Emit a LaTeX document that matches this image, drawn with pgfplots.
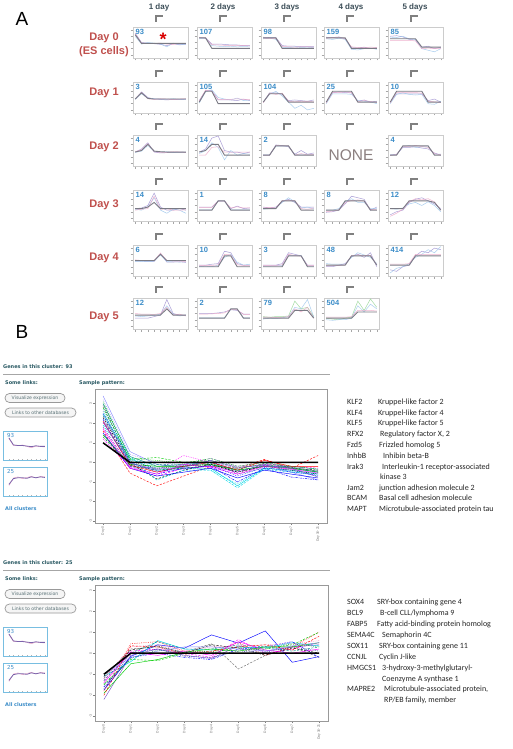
\documentclass[border=0pt]{standalone}
\usepackage{pgfplots}
\usepackage{pgfplotstable}
\pgfplotsset{compat=1.18}
\usepackage{fontspec}
\setmainfont{Liberation Sans}
\newfontfamily\carlito{Carlito}
\newfontfamily\dejavu{DejaVu Sans}

\definecolor{rowred}{RGB}{192,80,77}
\definecolor{headgray}{RGB}{60,78,88}
\definecolor{numblue}{RGB}{58,140,200}
\definecolor{nonegray}{RGB}{140,128,128}
\definecolor{tealtext}{RGB}{40,88,98}
\definecolor{btntext}{RGB}{85,110,115}
\definecolor{thumbblue}{RGB}{120,190,225}
\definecolor{meangray}{RGB}{122,122,132}
\definecolor{mpurple}{RGB}{150,135,205}
\definecolor{mpink}{RGB}{235,160,195}
\definecolor{mblue}{RGB}{150,195,235}
\definecolor{mgreen}{RGB}{140,210,140}
\definecolor{Rred}{RGB}{255,0,0}
\definecolor{Rgreen}{RGB}{0,205,0}
\definecolor{Rblue}{RGB}{0,0,255}
\definecolor{Rcyan}{RGB}{0,215,230}
\definecolor{Rmag}{RGB}{255,0,255}
\definecolor{Rteal}{RGB}{0,139,139}
\definecolor{Rpurple}{RGB}{120,80,200}
\definecolor{Rlav}{RGB}{140,140,255}
\definecolor{Rpink}{RGB}{255,105,180}
\definecolor{Rdkgreen}{RGB}{0,120,60}
\definecolor{Rnavy}{RGB}{30,30,150}
\definecolor{Rgray}{RGB}{110,110,110}

\tikzset{
 ld/.style={dash pattern=on 2.2pt off 1.4pt},
 lo/.style={dash pattern=on 0.7pt off 1.1pt},
 ldd/.style={dash pattern=on 2.2pt off 1pt on 0.7pt off 1pt},
}

\pgfplotsset{
 mini/.style={scale only axis, anchor=north west, width=55pt, height=31pt,
   xmin=-0.35, xmax=8.35, ymin=0, ymax=1,
   axis line style={draw=black!20, line width=0.6pt},
   xtick={0,...,8}, ytick={0.1,0.3,0.5,0.7,0.9},
   xticklabels={}, yticklabels={}, xtick pos=lower, ytick pos=left,
   tick align=outside, major tick length=2.5pt,
   tick style={black!35, line width=0.4pt}, clip=true},
 thumb/.style={scale only axis, anchor=north west, width=44pt, height=29pt,
   xmin=-1.1, xmax=8.7, ymin=0, ymax=1,
   axis line style={draw=thumbblue, line width=1pt},
   xtick={0,...,8}, xticklabels={}, ytick=\empty, xtick pos=lower,
   tick align=inside, major tick length=1.5pt,
   tick style={black!30, line width=0.3pt}, clip=true},
 big/.style={scale only axis, anchor=north west, width=232pt,
   xmin=-0.3, xmax=8.33,
   axis line style={draw=black!40, line width=0.9pt},
   xtick={0,...,8},
   xticklabels={Day 0,Day 1,Day 2,Day 3,Day 4,Day 5,Day 6,Day 7,Day 16-21},
   ytick={-3,...,3},
   tick align=outside, major tick length=2pt,
   tick style={black!50, line width=0.5pt},
   xtick pos=lower, ytick pos=left,
   xticklabel style={rotate=90, anchor=east, font=\fontsize{3.4}{3.6}\selectfont, text=black!55, inner sep=1pt},
   yticklabel style={rotate=90, anchor=south, font=\fontsize{3.4}{3.6}\selectfont, text=black!55, inner sep=1pt},
   /pgf/number format/assume math mode=true,
   every axis plot/.append style={line width=0.45pt},
   clip=true},
}

% ---------- Panel A data: one table per small plot (m = mean, a,b,c = single genes)
\pgfplotstableread{
x m a b c
0 .75 .80 .70 .78
1 .47 .50 .45 .48
2 .47 .48 .50 .46
3 .47 .46 .48 .47
4 .47 .44 .45 .48
5 .47 .40 .36 .45
6 .47 .46 .48 .44
7 .47 .43 .42 .46
8 .47 .44 .45 .46
}\tAa
\pgfplotstableread{
x m a b c
0 .65 .65 .62 .66
1 .65 .65 .63 .64
2 .31 .45 .40 .43
3 .31 .45 .38 .42
4 .31 .44 .37 .41
5 .31 .42 .38 .40
6 .31 .42 .36 .41
7 .31 .40 .37 .40
8 .31 .40 .36 .39
}\tAb
\pgfplotstableread{
x m a b c
0 .65 .67 .62 .64
1 .65 .66 .64 .63
2 .65 .66 .60 .63
3 .31 .40 .35 .37
4 .31 .38 .33 .36
5 .31 .38 .36 .35
6 .31 .37 .34 .36
7 .31 .37 .35 .36
8 .31 .37 .33 .35
}\tAc
\pgfplotstableread{
x m a b c
0 .65 .67 .62 .64
1 .65 .66 .60 .66
2 .65 .68 .64 .66
3 .65 .62 .60 .63
4 .31 .33 .28 .36
5 .31 .32 .26 .34
6 .31 .35 .30 .33
7 .31 .30 .32 .35
8 .31 .33 .28 .34
}\tAd
\pgfplotstableread{
x m a b c
0 .62 .70 .65 .57
1 .62 .72 .66 .57
2 .62 .68 .70 .57
3 .62 .60 .62 .57
4 .62 .58 .60 .55
5 .35 .35 .30 .30
6 .35 .38 .25 .32
7 .35 .30 .20 .30
8 .35 .35 .30 .30
}\tAe
\pgfplotstableread{
x m a b c
0 .45 .45 .44 .46
1 .65 .68 .62 .66
2 .47 .50 .48 .46
3 .45 .45 .46 .44
4 .45 .44 .45 .46
5 .45 .42 .44 .45
6 .45 .44 .46 .43
7 .45 .43 .44 .45
8 .45 .45 .44 .46
}\tBa
\pgfplotstableread{
x m a b c
0 .35 .40 .32 .38
1 .70 .72 .68 .74
2 .70 .72 .75 .70
3 .30 .42 .50 .44
4 .30 .42 .45 .43
5 .30 .42 .42 .44
6 .30 .40 .48 .46
7 .30 .45 .40 .44
8 .30 .40 .42 .43
}\tBb
\pgfplotstableread{
x m a b c
0 .35 .35 .35 .33
1 .62 .65 .60 .64
2 .62 .65 .70 .60
3 .62 .60 .55 .64
4 .35 .40 .35 .38
5 .35 .42 .15 .36
6 .35 .40 .25 .38
7 .35 .38 .10 .37
8 .35 .42 .15 .36
}\tBc
\pgfplotstableread{
x m a b c
0 .35 .35 .30 .33
1 .70 .65 .62 .67
2 .70 .68 .62 .66
3 .70 .66 .62 .68
4 .70 .65 .60 .66
5 .35 .38 .40 .36
6 .35 .42 .38 .40
7 .35 .35 .36 .37
8 .35 .38 .30 .34
}\tBd
\pgfplotstableread{
x m a b c
0 .35 .35 .30 .33
1 .70 .62 .60 .66
2 .70 .62 .65 .66
3 .70 .62 .60 .66
4 .70 .62 .58 .66
5 .70 .62 .60 .64
6 .35 .40 .30 .38
7 .35 .45 .28 .36
8 .35 .35 .38 .34
}\tBe
\pgfplotstableread{
x m a b c
0 .45 .45 .44 .46
1 .50 .55 .48 .52
2 .70 .75 .66 .72
3 .48 .45 .47 .46
4 .46 .42 .45 .44
5 .45 .43 .46 .44
6 .45 .44 .44 .46
7 .45 .45 .44 .45
8 .45 .44 .45 .44
}\tCa
\pgfplotstableread{
x m a b c
0 .45 .45 .40 .35
1 .50 .55 .50 .35
2 .70 .90 .75 .60
3 .70 .97 .60 .62
4 .35 .50 .20 .45
5 .35 .45 .50 .45
6 .35 .45 .35 .45
7 .35 .40 .40 .45
8 .35 .45 .38 .45
}\tCb
\pgfplotstableread{
x m a b c
0 .35 .35 .36 .35
1 .35 .35 .36 .35
2 .65 .68 .64 .66
3 .65 .66 .64 .65
4 .65 .62 .64 .65
5 .35 .38 .36 .35
6 .35 .50 .36 .40
7 .35 .38 .36 .36
8 .35 .42 .36 .37
}\tCc
\pgfplotstableread{
x m a b c
0 .35 .35 .36 .34
1 .35 .38 .36 .37
2 .65 .60 .62 .63
3 .65 .60 .66 .63
4 .65 .62 .60 .66
5 .65 .58 .62 .63
6 .65 .55 .62 .60
7 .35 .42 .38 .40
8 .35 .35 .38 .36
}\tCe
\pgfplotstableread{
x m a b c
0 .40 .40 .38 .35
1 .40 .42 .35 .38
2 .45 .50 .45 .40
3 .60 .90 .75 .80
4 .40 .45 .35 .38
5 .40 .35 .25 .40
6 .40 .35 .38 .35
7 .40 .40 .35 .35
8 .40 .35 .25 .36
}\tDa
\pgfplotstableread{
x m a b c
0 .35 .45 .36 .44
1 .35 .45 .36 .44
2 .35 .45 .36 .44
3 .65 .65 .64 .64
4 .65 .65 .64 .64
5 .35 .40 .36 .42
6 .35 .48 .36 .46
7 .35 .40 .36 .42
8 .35 .42 .36 .42
}\tDb
\pgfplotstableread{
x m a b c
0 .40 .45 .38 .42
1 .40 .42 .40 .44
2 .40 .45 .42 .42
3 .65 .62 .60 .66
4 .65 .70 .75 .66
5 .65 .60 .62 .66
6 .35 .45 .42 .40
7 .35 .45 .45 .38
8 .35 .45 .40 .42
}\tDc
\pgfplotstableread{
x m a b c
0 .35 .28 .35 .30
1 .35 .30 .35 .32
2 .35 .35 .40 .36
3 .65 .55 .62 .60
4 .65 .80 .72 .66
5 .65 .75 .60 .68
6 .65 .70 .60 .64
7 .35 .35 .40 .38
8 .35 .45 .40 .36
}\tDd
\pgfplotstableread{
x m a b c
0 .40 .20 .40 .15
1 .40 .30 .38 .25
2 .40 .35 .42 .38
3 .65 .60 .55 .62
4 .65 .70 .60 .72
5 .65 .75 .50 .68
6 .65 .65 .62 .72
7 .60 .55 .50 .62
8 .35 .40 .30 .35
}\tDe
\pgfplotstableread{
x m a b c
0 .50 .48 .46 .52
1 .50 .48 .47 .50
2 .50 .47 .46 .50
3 .50 .47 .48 .50
4 .70 .72 .68 .74
5 .50 .45 .47 .50
6 .50 .45 .46 .48
7 .50 .46 .45 .48
8 .50 .44 .46 .47
}\tEa
\pgfplotstableread{
x m a b c
0 .30 .35 .30 .33
1 .30 .35 .32 .34
2 .30 .38 .30 .34
3 .30 .40 .35 .36
4 .65 .80 .60 .70
5 .65 .75 .70 .68
6 .30 .40 .45 .36
7 .30 .35 .35 .34
8 .30 .35 .38 .33
}\tEb
\pgfplotstableread{
x m a b c
0 .30 .35 .32 .34
1 .30 .35 .32 .34
2 .30 .35 .33 .34
3 .30 .40 .34 .36
4 .65 .75 .66 .70
5 .65 .70 .67 .66
6 .65 .65 .66 .64
7 .30 .35 .32 .34
8 .30 .35 .32 .34
}\tEc
\pgfplotstableread{
x m a b c
0 .35 .30 .40 .33
1 .35 .30 .38 .33
2 .35 .35 .38 .34
3 .35 .40 .38 .36
4 .65 .62 .60 .66
5 .65 .70 .75 .68
6 .65 .60 .68 .66
7 .65 .75 .60 .66
8 .35 .30 .40 .36
}\tEd
\pgfplotstableread{
x m a b c
0 .35 .20 .10 .38
1 .35 .15 .25 .38
2 .35 .30 .30 .38
3 .35 .35 .40 .40
4 .65 .65 .60 .70
5 .65 .80 .70 .70
6 .65 .75 .85 .70
7 .65 .90 .75 .70
8 .65 .85 .95 .70
}\tEe
\pgfplotstableread{
x m a b c
0 .45 .35 .42 .50
1 .45 .35 .40 .48
2 .45 .35 .42 .48
3 .45 .40 .44 .47
4 .45 .45 .48 .50
5 .65 .95 .75 .70
6 .45 .50 .48 .45
7 .45 .45 .42 .48
8 .45 .45 .45 .42
}\tFa
\pgfplotstableread{
x m a b c
0 .35 .50 .36 .48
1 .35 .50 .36 .48
2 .35 .50 .36 .49
3 .35 .52 .36 .50
4 .35 .55 .36 .52
5 .65 .62 .64 .64
6 .65 .60 .64 .62
7 .35 .48 .36 .47
8 .35 .48 .36 .47
}\tFb
\pgfplotstableread{
x m a b c
0 .35 .40 .32 .38
1 .35 .38 .35 .38
2 .35 .40 .34 .37
3 .35 .40 .36 .38
4 .35 .42 .40 .40
5 .60 .90 .70 .65
6 .60 .65 .65 .55
7 .60 .70 .95 .70
8 .35 .40 .38 .35
}\tFc
\pgfplotstableread{
x m a b c
0 .35 .35 .30 .38
1 .35 .32 .28 .38
2 .35 .30 .30 .38
3 .35 .35 .30 .38
4 .35 .38 .35 .40
5 .55 .90 .75 .60
6 .55 .60 .55 .60
7 .55 .97 .80 .60
8 .55 .70 .65 .58
}\tFd

% #1 colour of first gene line, #2 left, #3 top, #4 cluster size, #5 table
\newcommand{\mini}[5][mpurple]{%
\begin{axis}[mini, at={(#2pt,-#3pt)}]
\addplot[#1, opacity=0.8, line width=0.5pt] table[x=x,y=a]{#5};
\addplot[mblue, opacity=0.8, line width=0.5pt] table[x=x,y=b]{#5};
\addplot[mpink, opacity=0.8, line width=0.5pt] table[x=x,y=c]{#5};
\addplot[meangray, line width=0.9pt] table[x=x,y=m]{#5};
\node[anchor=north west, inner sep=0pt, xshift=2.5pt, yshift=-2pt,
  font=\fontsize{7.5}{7.5}\selectfont\bfseries, text=numblue] at (rel axis cs:0,1) {#4};
\end{axis}}

% static part of a panel-B block: #1 vertical offset, #2 cluster size
\newcommand{\bstatic}[2]{%
\node[anchor=west, inner sep=0pt, font=\dejavu\fontsize{5}{6}\selectfont\bfseries, text=tealtext] at (3pt,-367pt-#1pt) {Genes in this cluster: #2};
\draw[black!35, line width=1pt] (3pt,-374pt-#1pt) -- (330pt,-374pt-#1pt);
\node[anchor=west, inner sep=0pt, font=\dejavu\fontsize{5}{6}\selectfont\bfseries, text=tealtext] at (5pt,-383pt-#1pt) {Some links:};
\node[anchor=west, inner sep=0pt, font=\dejavu\fontsize{5}{6}\selectfont\bfseries, text=tealtext] at (79pt,-383pt-#1pt) {Sample pattern:};
\draw[black!40, line width=0.7pt, fill=black!4, rounded corners=4.4pt] (5pt,-393.5pt-#1pt) rectangle (65pt,-402.5pt-#1pt);
\node[inner sep=0pt, font=\dejavu\fontsize{4.6}{5}\selectfont, text=btntext] at (35pt,-398pt-#1pt) {Visualize expression};
\draw[black!40, line width=0.7pt, fill=black!4, rounded corners=4.4pt] (5pt,-408pt-#1pt) rectangle (76pt,-417pt-#1pt);
\node[inner sep=0pt, font=\dejavu\fontsize{4.6}{5}\selectfont, text=btntext] at (40.5pt,-412.5pt-#1pt) {Links to other databases};
\node[anchor=west, inner sep=0pt, font=\dejavu\fontsize{5}{6}\selectfont\bfseries, text=numblue] at (5pt,-509pt-#1pt) {All clusters};
\begin{axis}[thumb, at={(4pt,-431pt-#1pt)}]
\addplot[mpink, line width=0.4pt] coordinates {(0,.74)(1,.50)(2,.49)(3,.52)(4,.47)(5,.42)(6,.48)(7,.46)(8,.45)};
\addplot[Rpurple!60!gray, line width=0.8pt] coordinates {(0,.76)(1,.52)(2,.50)(3,.50)(4,.48)(5,.46)(6,.49)(7,.47)(8,.47)};
\node[anchor=north west, inner sep=0pt, xshift=3pt, yshift=-2pt, font=\dejavu\fontsize{5.5}{6}\selectfont, text=numblue] at (rel axis cs:0,1) {93};
\end{axis}
\begin{axis}[thumb, at={(4pt,-467pt-#1pt)}]
\addplot[mpink, line width=0.4pt] coordinates {(0,.36)(1,.62)(2,.66)(3,.60)(4,.64)(5,.68)(6,.62)(7,.67)(8,.66)};
\addplot[Rpurple!60!gray, line width=0.8pt] coordinates {(0,.40)(1,.60)(2,.63)(3,.63)(4,.61)(5,.66)(6,.63)(7,.66)(8,.64)};
\node[anchor=north west, inner sep=0pt, xshift=3pt, yshift=-2pt, font=\dejavu\fontsize{5.5}{6}\selectfont, text=numblue] at (rel axis cs:0,1) {25};
\end{axis}
}

\newcommand{\gene}[4]{% y, name, x of description, description
\node[anchor=base west, inner sep=0pt, font=\carlito\fontsize{8}{9}\selectfont, text=black!85] at (347pt,-#1pt) {#2};
\node[anchor=base west, inner sep=0pt, font=\carlito\fontsize{8}{9}\selectfont, text=black!85] at (#3pt,-#1pt) {#4};}

\begin{document}
\begin{tikzpicture}
\useasboundingbox (0,0) rectangle (513pt,-749pt);
\fill[white] (0,0) rectangle (513pt,-749pt);

% ---------------- Panel A
\node[font=\fontsize{19}{19}\selectfont, text=black] at (22pt,-19pt) {A};
\foreach \cx/\lab in {159/1 day,223/2 days,287/3 days,351/4 days,415/5 days}
  \node[font=\fontsize{8}{9}\selectfont\bfseries, text=headgray] at (\cx pt,-7pt) {\lab};

\foreach \t in {27,82,135,190,245}
  \foreach \c in {160.5,224.5,288.5,351.5,415.5}
    \draw[black!50, line width=1.1pt] (\c pt-4.5pt,-\t pt+5pt) -- (\c pt-4.5pt,-\t pt+11pt) -- (\c pt+2pt,-\t pt+11pt);
\foreach \c in {160.5,224.5,288.5,351.5}
    \draw[black!50, line width=1.1pt] (\c pt-4.5pt,-298pt+5pt) -- (\c pt-4.5pt,-298pt+11pt) -- (\c pt+2pt,-298pt+11pt);

\foreach \y/\lab in {38/Day 0,52/(ES cells),93/Day 1,147/Day 2,205/Day 3,258/Day 4,317/Day 5}
  \node[font=\fontsize{11}{13}\selectfont\bfseries, text=rowred] at (104pt,-\y pt) {\lab};

\mini{133}{27}{93}{\tAa}
\mini{197}{27}{107}{\tAb}
\mini{261}{27}{98}{\tAc}
\mini{324}{27}{159}{\tAd}
\mini{388}{27}{85}{\tAe}

\mini{133}{82}{3}{\tBa}
\mini{197}{82}{105}{\tBb}
\mini{261}{82}{104}{\tBc}
\mini{324}{82}{25}{\tBd}
\mini{388}{82}{10}{\tBe}

\mini{133}{135}{4}{\tCa}
\mini{197}{135}{14}{\tCb}
\mini{261}{135}{2}{\tCc}
\mini{388}{135}{4}{\tCe}

\mini{133}{190}{14}{\tDa}
\mini{197}{190}{1}{\tDb}
\mini{261}{190}{8}{\tDc}
\mini{324}{190}{8}{\tDd}
\mini{388}{190}{12}{\tDe}

\mini{133}{245}{6}{\tEa}
\mini{197}{245}{10}{\tEb}
\mini{261}{245}{3}{\tEc}
\mini{324}{245}{48}{\tEd}
\mini{388}{245}{414}{\tEe}

\mini{133}{298}{12}{\tFa}
\mini{197}{298}{2}{\tFb}
\mini[mgreen]{261}{298}{79}{\tFc}
\mini[mgreen]{324}{298}{504}{\tFd}

\node[font=\fontsize{15.5}{16}\selectfont, text=nonegray] at (351pt,-155pt) {NONE};
\node[anchor=base, inner sep=0pt, font=\fontsize{18}{18}\selectfont\bfseries, text=red!85!black] at (163pt,-46pt) {*};

% ---------------- Panel B
\node[font=\fontsize{19}{19}\selectfont, text=black] at (22pt,-332pt) {B};

\bstatic{0}{93}
\bstatic{196}{25}

\begin{axis}[big, at={(95pt,-389pt)}, height=134pt, ymin=-3.1, ymax=3.75]
\addplot[Rlav] coordinates {(0,3.4)(1,0.55)(2,-0.1)(3,-0.3)(4,-0.2)(5,-0.5)(6,-0.1)(7,-0.5)(8,-0.9)};
\addplot[Rred,ld] coordinates {(0,1.6)(1,-0.55)(2,-1.2)(3,-0.7)(4,-0.2)(5,-0.3)(6,0.15)(7,-0.3)(8,0.35)};
\addplot[Rmag,lo] coordinates {(0,2.0)(1,-0.1)(2,-0.4)(3,0.35)(4,0.0)(5,-0.3)(6,-0.1)(7,-0.3)(8,-0.5)};
\addplot[Rcyan] coordinates {(0,2.5)(1,0.2)(2,-0.4)(3,-0.3)(4,-0.3)(5,-1.2)(6,-0.3)(7,-0.4)(8,-0.6)};
\addplot[Rblue,ldd] coordinates {(0,2.2)(1,-0.2)(2,-0.6)(3,-0.3)(4,-0.2)(5,-1.0)(6,-0.3)(7,-0.75)(8,-0.9)};
\addplot[Rgreen,ld] coordinates {(0,2.8)(1,0.15)(2,0.25)(3,0.0)(4,0.1)(5,-0.3)(6,-0.1)(7,-0.3)(8,-0.5)};
\addplot[black,ld] coordinates {(0,2.3)(1,-0.05)(2,-0.85)(3,-0.4)(4,-0.1)(5,-0.5)(6,-0.2)(7,-0.3)(8,-0.4)};
\addplot[Rteal] coordinates {(0,3.0)(1,0.3)(2,-0.2)(3,-0.1)(4,0.0)(5,-0.4)(6,-0.2)(7,-0.2)(8,-0.35)};
\addplot[Rpurple,ld] coordinates {(0,1.8)(1,-0.2)(2,-0.3)(3,-0.1)(4,0.2)(5,-0.2)(6,0.0)(7,-0.25)(8,-0.45)};
\addplot[Rgreen] coordinates {(0,1.4)(1,-0.1)(2,-0.2)(3,-0.2)(4,-0.1)(5,-0.4)(6,-0.2)(7,-0.3)(8,-0.5)};
\addplot[Rnavy,lo] coordinates {(0,2.6)(1,0.0)(2,-0.5)(3,-0.2)(4,0.1)(5,-0.6)(6,-0.3)(7,-0.4)(8,-0.7)};
\addplot[Rmag,ld] coordinates {(0,1.2)(1,-0.25)(2,-0.7)(3,-0.3)(4,-0.2)(5,-0.5)(6,-0.1)(7,-0.2)(8,-0.3)};
\addplot[Rcyan,ld] coordinates {(0,1.9)(1,0.1)(2,-0.9)(3,-0.4)(4,-0.4)(5,-1.3)(6,-0.35)(7,-0.5)(8,-0.6)};
\addplot[Rred] coordinates {(0,2.1)(1,-0.15)(2,-0.5)(3,-0.2)(4,0.0)(5,-0.4)(6,0.1)(7,-0.2)(8,-0.2)};
\addplot[Rblue] coordinates {(0,1.5)(1,-0.3)(2,-0.7)(3,-0.5)(4,-0.3)(5,-0.8)(6,-0.4)(7,-0.6)(8,-0.8)};
\addplot[black,lo] coordinates {(0,2.9)(1,0.05)(2,-0.3)(3,-0.2)(4,-0.1)(5,-0.5)(6,-0.2)(7,-0.4)(8,-0.6)};
\addplot[Rgreen,lo] coordinates {(0,3.1)(1,0.2)(2,0.1)(3,-0.05)(4,0.2)(5,-0.2)(6,0.0)(7,-0.2)(8,-0.35)};
\addplot[Rteal,ld] coordinates {(0,2.4)(1,0.1)(2,-0.1)(3,-0.15)(4,-0.05)(5,-0.45)(6,-0.15)(7,-0.3)(8,-0.5)};
\addplot[Rmag] coordinates {(0,1.7)(1,-0.3)(2,-0.6)(3,-0.1)(4,-0.25)(5,-0.6)(6,-0.2)(7,-0.35)(8,-0.55)};
\addplot[Rcyan,lo] coordinates {(0,2.7)(1,0.25)(2,-0.3)(3,-0.25)(4,-0.4)(5,-1.1)(6,-0.3)(7,-0.45)(8,-0.7)};
\addplot[Rdkgreen,ld] coordinates {(0,1.3)(1,-0.15)(2,-0.4)(3,-0.3)(4,-0.15)(5,-0.35)(6,-0.05)(7,-0.25)(8,-0.45)};
\addplot[Rlav,lo] coordinates {(0,3.2)(1,0.4)(2,0.0)(3,-0.1)(4,0.05)(5,-0.3)(6,-0.1)(7,-0.35)(8,-0.55)};
\addplot[Rpurple] coordinates {(0,2.05)(1,-0.05)(2,-0.35)(3,-0.25)(4,0.1)(5,-0.25)(6,-0.15)(7,-0.3)(8,-0.75)};
\addplot[Rblue,lo] coordinates {(0,2.45)(1,0.0)(2,-0.45)(3,-0.35)(4,-0.15)(5,-0.7)(6,-0.25)(7,-0.5)(8,-0.65)};
\addplot[black, line width=1.5pt] coordinates {(0,1.0)(1,0)(2,0)(3,0)(4,0)(5,0)(6,0)(7,0)(8,0)};
\end{axis}

\begin{axis}[big, at={(95pt,-585pt)}, height=136pt, ymin=-3.22, ymax=3.24, width=233pt, xmin=-0.33]
\addplot[Rblue] coordinates {(0,-1.75)(1,-0.15)(2,0.4)(3,0.24)(4,0.87)(5,0.48)(6,1.06)(7,-0.43)(8,-0.16)};
\addplot[Rgray,ld] coordinates {(0,-1.2)(1,0.2)(2,0.3)(3,0.05)(4,0.45)(5,-0.75)(6,-0.1)(7,0.3)(8,-0.2)};
\addplot[Rmag,ld] coordinates {(0,-1.3)(1,0.1)(2,0.2)(3,0.0)(4,-0.2)(5,0.65)(6,0.0)(7,0.2)(8,0.5)};
\addplot[Rred,lo] coordinates {(0,-1.8)(1,0.45)(2,0.55)(3,0.1)(4,0.05)(5,0.5)(6,-0.1)(7,0.3)(8,1.0)};
\addplot[Rgreen,ld] coordinates {(0,-1.5)(1,-0.3)(2,-0.35)(3,0.0)(4,0.0)(5,0.3)(6,0.2)(7,0.4)(8,1.0)};
\addplot[Rpurple] coordinates {(0,-2.2)(1,-0.1)(2,0.2)(3,-0.1)(4,-0.25)(5,0.35)(6,0.1)(7,0.3)(8,0.4)};
\addplot[Rcyan] coordinates {(0,-1.1)(1,-0.4)(2,0.6)(3,0.2)(4,0.15)(5,0.3)(6,0.25)(7,0.5)(8,0.35)};
\addplot[Rblue,ldd] coordinates {(0,-1.6)(1,-0.2)(2,0.0)(3,-0.2)(4,-0.3)(5,0.2)(6,0.3)(7,0.55)(8,-0.2)};
\addplot[Rteal,ld] coordinates {(0,-1.3)(1,0.0)(2,0.55)(3,0.2)(4,0.2)(5,0.4)(6,0.3)(7,0.1)(8,0.3)};
\addplot[black,ld] coordinates {(0,-1.1)(1,0.15)(2,0.35)(3,0.0)(4,0.4)(5,0.25)(6,-0.1)(7,0.25)(8,0.0)};
\addplot[Rmag] coordinates {(0,-1.4)(1,0.05)(2,-0.1)(3,0.1)(4,-0.1)(5,0.55)(6,0.15)(7,0.0)(8,0.2)};
\addplot[Rgreen] coordinates {(0,-1.9)(1,-0.5)(2,-0.3)(3,0.05)(4,0.2)(5,0.1)(6,0.3)(7,0.3)(8,0.5)};
\addplot[Rpink,lo] coordinates {(0,-1.2)(1,0.3)(2,0.4)(3,0.1)(4,0.3)(5,0.35)(6,0.4)(7,0.45)(8,0.6)};
\addplot[Rnavy,lo] coordinates {(0,-1.7)(1,0.0)(2,0.2)(3,-0.15)(4,-0.2)(5,0.1)(6,0.05)(7,0.3)(8,0.1)};
\addplot[Rred,ld] coordinates {(0,-2.0)(1,0.35)(2,0.3)(3,-0.05)(4,0.1)(5,0.3)(6,0.4)(7,0.15)(8,0.8)};
\addplot[Rlav] coordinates {(0,-1.0)(1,-0.2)(2,0.1)(3,0.3)(4,0.3)(5,0.2)(6,0.1)(7,0.35)(8,0.5)};
\addplot[Rdkgreen,lo] coordinates {(0,-1.45)(1,-0.25)(2,0.15)(3,0.05)(4,0.1)(5,0.15)(6,0.2)(7,0.45)(8,0.3)};
\addplot[black, line width=1.5pt] coordinates {(0,-1.0)(1,0)(2,0)(3,0)(4,0)(5,0)(6,0)(7,0)(8,0)};
\end{axis}

% gene lists
\gene{404}{KLF2}{378}{Kruppel-like factor 2}
\gene{415}{KLF4}{378}{Kruppel-like factor 4}
\gene{425}{KLF5}{378}{Kruppel-like factor 5}
\gene{436}{RFX2}{380}{Regulatory factor X, 2}
\gene{447}{Fzd5}{379}{Frizzled homolog 5}
\gene{458}{InhbB}{383}{Inhibin beta-B}
\gene{469}{Irak3}{382}{Interleukin-1 receptor-associated}
\gene{479}{}{380}{kinase 3}
\gene{490}{Jam2}{379}{junction adhesion molecule 2}
\gene{500}{BCAM}{379}{Basal cell adhesion molecule}
\gene{511}{MAPT}{379}{Microtubule-associated protein tau}

\gene{604}{SOX4}{377}{SRY-box containing gene 4}
\gene{615}{BCL9}{380}{B-cell CLL/lymphoma 9}
\gene{626}{FABP5}{377}{Fatty acid-binding protein homolog}
\gene{637}{SEMA4C}{382}{Semaphorin 4C}
\gene{648}{SOX11}{379}{SRY-box containing gene 11}
\gene{659}{CCNJL}{379}{Cyclin J-like}
\gene{670}{HMGCS1}{382}{3-hydroxy-3-methylglutaryl-}
\gene{681}{}{382}{Coenzyme A synthase 1}
\gene{691}{MAPRE2}{384}{Microtubule-associated protein,}
\gene{702}{}{384}{RP/EB family, member}
\end{tikzpicture}
\end{document}
